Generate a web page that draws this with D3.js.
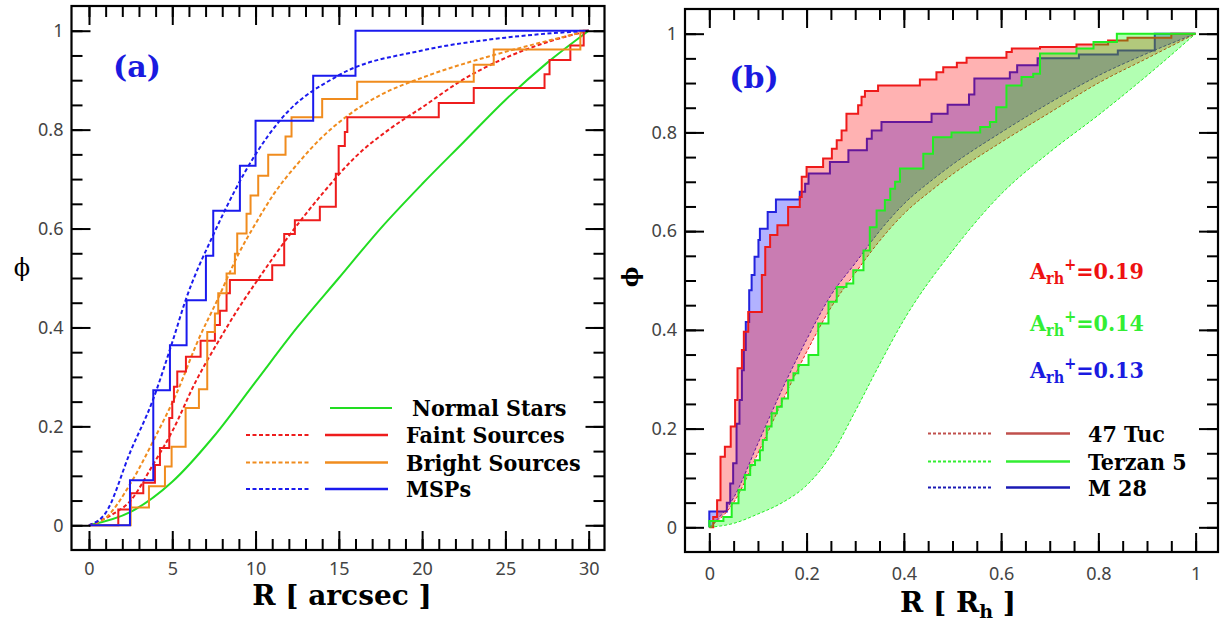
<!DOCTYPE html>
<html lang="en">
<head>
<meta charset="UTF-8">
<title>Radial distributions</title>
<script src="https://cdn.jsdelivr.net/npm/d3@7/dist/d3.min.js"></script>
<style>
  body{margin:0;background:#fff}
  svg{display:block}
  .tick text{font-family:"Noto Sans",sans-serif;font-size:18px;fill:#444}
  .tick line{stroke:#000;stroke-width:2}
  .serif{font-family:"DejaVu Serif",serif;font-weight:bold}
  .leg{font-family:"DejaVu Serif Condensed","DejaVu Serif",serif;font-stretch:condensed;font-weight:bold;font-size:23px}
</style>
</head>
<body>
<svg id="chart" width="1222" height="624"></svg>
<script>
// ---------- panel (a): R in arcsec ----------
const aMajorX=[0,5,10,15,20,25,30]
const phiMajor=[0,0.2,0.4,0.6,0.8,1]

const normalR  =[0,2.5,5,7.5,10,12.5,15,17.5,20,22.5,25,27.5,30]
const normalPhi=[0,0.027,0.088,0.18,0.29,0.4,0.5,0.6,0.69,0.775,0.86,0.935,1]

const faintModelR  =[0,1.3,2.5,3.8,5,6.4,8,9,10,12,14,16,18,20,22.4,25,28,30]
const faintModelPhi=[0,0.02,0.05,0.12,0.19,0.29,0.385,0.44,0.49,0.585,0.67,0.745,0.8,0.845,0.9,0.945,0.982,1]
const brightModelR  =[0,1,2.5,4,5.3,6.5,7.7,9,10,11.1,12.5,14,15.4,17.5,20,24,27,30]
const brightModelPhi=[0,0.015,0.085,0.18,0.27,0.37,0.455,0.55,0.61,0.67,0.73,0.785,0.825,0.87,0.905,0.948,0.975,1]
const mspModelR  =[0,1,2.5,3.8,5,5.8,7.5,10,11.5,15,20,25,30]
const mspModelPhi=[0,0.025,0.15,0.25,0.37,0.455,0.59,0.75,0.82,0.91,0.96,0.986,1]

// cumulative steps: radius of each jump and the fraction reached
const faintStepR  =[1.76,2.5,3.26,3.96,4.26,4.82,5.0,5.1,5.3,5.82,6.7,7.56,7.86,8.26,8.46,11.0,11.72,12.36,13.86,14.82,14.99,15.36,15.51,21.0,23.1,27.35,27.65,28.9,29.7]
const faintStepPhi=[0.032,0.065,0.086,0.122,0.156,0.217,0.25,0.28,0.311,0.341,0.373,0.405,0.434,0.469,0.496,0.526,0.589,0.617,0.644,0.711,0.767,0.795,0.825,0.854,0.884,0.912,0.941,0.97,1]
const brightStepR  =[2.5,3.6,4.56,4.96,5.8,6.6,7.1,7.56,7.76,8.26,8.76,8.9,9.46,9.7,10.16,10.76,11.8,12.16,14.0,16.1,23.1,24.3,29.5]
const brightStepPhi=[0.036,0.079,0.119,0.159,0.237,0.275,0.391,0.428,0.469,0.509,0.549,0.59,0.63,0.667,0.707,0.749,0.786,0.825,0.862,0.897,0.931,0.962,1]
const mspStepR  =[2.46,3.86,4.86,5.86,7.02,7.46,9.06,10.0,13.46,16.0]
const mspStepPhi=[0.091,0.273,0.364,0.455,0.545,0.636,0.727,0.818,0.909,1]

// ---------- panel (b): R in units of R_h ----------
const bMajorX=[0,0.2,0.4,0.6,0.8,1]

const terModelR  =[0,0.05,0.1,0.15,0.2,0.25,0.3,0.35,0.4,0.5,0.6,0.7,0.8,0.9,1]
const terModelPhi=[0,0.008,0.027,0.05,0.085,0.145,0.235,0.33,0.42,0.56,0.675,0.76,0.835,0.915,1]
const m28ModelR  =[0,0.05,0.1,0.15,0.2,0.25,0.3,0.35,0.4,0.46,0.5,0.6,0.7,0.8,0.9,1]
const m28ModelPhi=[0,0.06,0.17,0.28,0.38,0.47,0.535,0.6,0.655,0.705,0.735,0.8,0.86,0.915,0.96,1]
const tucModelR  =[0,0.05,0.1,0.15,0.2,0.25,0.3,0.35,0.4,0.46,0.5,0.6,0.7,0.8,0.9,1]
const tucModelPhi=[0,0.05,0.15,0.255,0.355,0.445,0.515,0.58,0.635,0.685,0.715,0.78,0.84,0.9,0.95,1]

const tucStepR  =[0.008,0.016,0.023,0.032,0.044,0.053,0.058,0.067,0.071,0.08,0.108,0.115,0.125,0.14,0.162,0.186,0.19,0.2,0.234,0.252,0.262,0.272,0.282,0.306,0.313,0.32,0.347,0.433,0.467,0.481,0.509,0.529,0.611,0.622,0.68,0.755,0.82,0.86,0.95]
const tucStepPhi=[0.021,0.055,0.143,0.163,0.204,0.258,0.322,0.359,0.396,0.436,0.511,0.568,0.592,0.612,0.649,0.669,0.71,0.73,0.747,0.767,0.784,0.804,0.838,0.855,0.872,0.884,0.895,0.907,0.922,0.932,0.941,0.951,0.963,0.97,0.973,0.978,0.986,0.992,1]
const m28StepR  =[0,0.036,0.043,0.049,0.056,0.062,0.067,0.071,0.075,0.082,0.087,0.093,0.101,0.104,0.12,0.137,0.186,0.197,0.204,0.248,0.286,0.324,0.334,0.354,0.457,0.49,0.534,0.545,0.618,0.633,0.675,0.76,0.84,0.916]
const m28StepPhi=[0.032,0.05,0.089,0.13,0.21,0.258,0.318,0.359,0.416,0.48,0.511,0.548,0.582,0.605,0.639,0.664,0.68,0.696,0.717,0.74,0.764,0.787,0.804,0.821,0.838,0.856,0.877,0.909,0.922,0.936,0.95,0.958,0.966,1]
const terStepR  =[0,0.029,0.046,0.06,0.073,0.084,0.094,0.104,0.11,0.118,0.128,0.139,0.149,0.162,0.173,0.183,0.204,0.224,0.245,0.262,0.282,0.296,0.317,0.33,0.344,0.361,0.372,0.382,0.392,0.44,0.46,0.498,0.557,0.577,0.59,0.611,0.642,0.666,0.68,0.755,0.79,0.838]
const terStepPhi=[0.013,0.021,0.049,0.076,0.106,0.126,0.136,0.156,0.177,0.204,0.231,0.244,0.261,0.298,0.312,0.329,0.349,0.413,0.457,0.487,0.494,0.521,0.561,0.608,0.642,0.663,0.686,0.7,0.727,0.757,0.79,0.8,0.811,0.821,0.851,0.895,0.912,0.919,0.96,0.97,0.983,1]

const aLegend=['Normal Stars','Faint Sources','Bright Sources','MSPs']
const bLegend=['47 Tuc','Terzan 5','M 28']
const bIndex=['0.19','0.14','0.13']

const svg=d3.select('#chart')
svg.append('rect').attr('width',1222).attr('height',624).attr('fill','#fff')

const zip=(xs,ys)=>xs.map((x,i)=>[x,ys[i]])
function stepPts(rs,ps,xEnd){
    let pts=[[0,0]],prev=0
    rs.forEach((r,i)=>{pts.push([r,prev]);pts.push([r,ps[i]]);prev=ps[i]})
    pts.push([xEnd,prev])
    return pts
}

function frame(g,x,y,majX,minX,majY,minY,padX){
    const xb=y.range()[0],xt=y.range()[1],yl=x.range()[0],yr=x.range()[1]
    const fmt=d3.format('~g')
    g.append('g').attr('transform','translate(0,'+xb+')').call(d3.axisBottom(x).tickValues(minX).tickSize(-11).tickFormat(''))
    g.append('g').attr('transform','translate(0,'+xb+')').call(d3.axisBottom(x).tickValues(majX).tickSize(-19).tickPadding(padX).tickFormat(fmt))
    g.append('g').attr('transform','translate(0,'+xt+')').call(d3.axisTop(x).tickValues(minX).tickSize(-11).tickFormat(''))
    g.append('g').attr('transform','translate(0,'+xt+')').call(d3.axisTop(x).tickValues(majX).tickSize(-19).tickFormat(''))
    g.append('g').attr('transform','translate('+yl+',0)').call(d3.axisLeft(y).tickValues(minY).tickSize(-11).tickFormat(''))
    g.append('g').attr('transform','translate('+yl+',0)').call(d3.axisLeft(y).tickValues(majY).tickSize(-19).tickPadding(8).tickFormat(fmt))
    g.append('g').attr('transform','translate('+yr+',0)').call(d3.axisRight(y).tickValues(minY).tickSize(-11).tickFormat(''))
    g.append('g').attr('transform','translate('+yr+',0)').call(d3.axisRight(y).tickValues(majY).tickSize(-19).tickFormat(''))
    g.selectAll('.domain').remove()
    g.append('rect').attr('x',yl).attr('y',xt).attr('width',yr-yl).attr('height',xb-xt)
        .attr('fill','none').attr('stroke','#000').attr('stroke-width',2.2)
}

// ================= panel (a) =================
const xA=d3.scaleLinear().domain([-1.05,30.95]).range([71.5,604.5])
const yA=d3.scaleLinear().domain([-0.05,1.05]).range([550,6])
const gA=svg.append('g')
const lineA=d3.line().x(d=>xA(d[0])).y(d=>yA(d[1]))
const smoothA=d3.line().x(d=>xA(d[0])).y(d=>yA(d[1])).curve(d3.curveMonotoneX)

const cGreen='#22dd22',cRed='#ee1c1c',cOrange='#f08c1e',cBlue='#1a1aee'

gA.append('path').attr('d',smoothA(zip(normalR,normalPhi))).attr('fill','none').attr('stroke',cGreen).attr('stroke-width',2)
;[[faintModelR,faintModelPhi,cRed],[brightModelR,brightModelPhi,cOrange],[mspModelR,mspModelPhi,cBlue]].forEach(s=>{
    gA.append('path').attr('d',smoothA(zip(s[0],s[1]))).attr('fill','none').attr('stroke',s[2])
        .attr('stroke-width',2).attr('stroke-dasharray','4,2.5')
})
;[[faintStepR,faintStepPhi,cRed],[brightStepR,brightStepPhi,cOrange],[mspStepR,mspStepPhi,cBlue]].forEach(s=>{
    gA.append('path').attr('d',lineA(stepPts(s[0],s[1],30))).attr('fill','none').attr('stroke',s[2]).attr('stroke-width',2)
})
frame(gA,xA,yA,aMajorX,d3.range(0,31,1),phiMajor,d3.range(0,1.001,0.05),12)

// legend (a)
const legA=gA.append('g')
const legAy=[408,435,462.5,489]
legA.append('line').attr('x1',330).attr('x2',392).attr('y1',legAy[0]).attr('y2',legAy[0]).attr('stroke',cGreen).attr('stroke-width',2)
;[cRed,cOrange,cBlue].forEach((c,i)=>{
    legA.append('line').attr('x1',246).attr('x2',309).attr('y1',legAy[i+1]).attr('y2',legAy[i+1]).attr('stroke',c).attr('stroke-width',2).attr('stroke-dasharray','4,2.5')
    legA.append('line').attr('x1',325).attr('x2',388).attr('y1',legAy[i+1]).attr('y2',legAy[i+1]).attr('stroke',c).attr('stroke-width',2.5)
})
aLegend.forEach((t,i)=>{
    legA.append('text').attr('class','leg').attr('x',i==0?412:406).attr('y',legAy[i]+8).text(t)
})
gA.append('text').attr('class','serif').attr('x',137).attr('y',77).attr('text-anchor','middle')
    .attr('font-size',30).attr('fill','#1a1ae0').text('(a)')
gA.append('text').attr('class','serif').attr('x',342).attr('y',605).attr('text-anchor','middle')
    .attr('font-size',28).text('R [ arcsec ]')
gA.append('text').attr('x',22).attr('y',276).attr('text-anchor','middle')
    .attr('font-family','DejaVu Serif').attr('font-size',24).text('\u03d5')

// ================= panel (b) =================
const xB=d3.scaleLinear().domain([-0.05,1.046]).range([685,1218])
const yB=d3.scaleLinear().domain([-0.05,1.05]).range([552,9])
const gB=svg.append('g')
const lineB=d3.line().x(d=>xB(d[0])).y(d=>yB(d[1]))
const smoothB=d3.line().x(d=>xB(d[0])).y(d=>yB(d[1])).curve(d3.curveMonotoneX)

const series=[
    {mr:m28ModelR,mp:m28ModelPhi,sr:m28StepR,sp:m28StepPhi,line:'#2222dd',fill:'#0000ff'},
    {mr:tucModelR,mp:tucModelPhi,sr:tucStepR,sp:tucStepPhi,line:'#ee1a1a',fill:'#ff0000'},
    {mr:terModelR,mp:terModelPhi,sr:terStepR,sp:terStepPhi,line:'#22ee22',fill:'#00ff00'}
]
series.forEach(s=>{
    const model=zip(s.mr,s.mp)
    const steps=stepPts(s.sr,s.sp,1)
    const d=smoothB(model)+lineB(steps.slice().reverse()).replace(/^M/,'L')+'Z'
    gB.append('path').attr('d',d).attr('fill',s.fill).attr('fill-opacity',0.3)
    gB.append('path').attr('d',lineB(steps)).attr('fill','none').attr('stroke',s.line).attr('stroke-width',2)
    gB.append('path').attr('d',smoothB(model)).attr('fill','none').attr('stroke',s.line).attr('stroke-width',1)
        .attr('stroke-dasharray','3,2')
})
frame(gB,xB,yB,bMajorX,d3.range(0,1.001,0.05),phiMajor,d3.range(0,1.001,0.05),15)

// legend (b)
const legB=gB.append('g')
const legBy=[433.5,461.5,487.5]
const legBc=['#c0504d','#33ee33','#1a1ab4']
bLegend.forEach((t,i)=>{
    legB.append('line').attr('x1',928).attr('x2',991).attr('y1',legBy[i]).attr('y2',legBy[i]).attr('stroke',legBc[i]).attr('stroke-width',2).attr('stroke-dasharray','3,2')
    legB.append('line').attr('x1',1006).attr('x2',1070).attr('y1',legBy[i]).attr('y2',legBy[i]).attr('stroke',legBc[i]).attr('stroke-width',2.5)
    legB.append('text').attr('class','leg').attr('x',1088).attr('y',legBy[i]+8).text(t)
})
const idxC=['#ee1111','#33ee33','#1a1ae0']
const idxY=[279,331,378]
bIndex.forEach((v,i)=>{
    const t=gB.append('text').attr('class','leg').attr('x',1030).attr('y',idxY[i]).attr('fill',idxC[i])
    t.append('tspan').text('A')
    t.append('tspan').attr('font-size',16).attr('dy',5).text('rh')
    t.append('tspan').attr('font-size',16).attr('dy',-14).text('+')
    t.append('tspan').attr('dy',9).text('='+v)
})
gB.append('text').attr('class','serif').attr('x',754).attr('y',88).attr('text-anchor','middle')
    .attr('font-size',30).attr('fill','#1a1ae0').text('(b)')
const tB=gB.append('text').attr('class','serif').attr('x',958).attr('y',612).attr('text-anchor','middle').attr('font-size',28)
tB.append('tspan').text('R [ R')
tB.append('tspan').attr('font-size',19).attr('dy',6).text('h')
tB.append('tspan').attr('dy',-6).text(' ]')
gB.append('text').attr('transform','translate(638,277) rotate(-90)').attr('text-anchor','middle')
    .attr('font-family','DejaVu Serif').attr('font-weight','bold').attr('font-size',22).text('\u03d5')
</script>
</body>
</html>
